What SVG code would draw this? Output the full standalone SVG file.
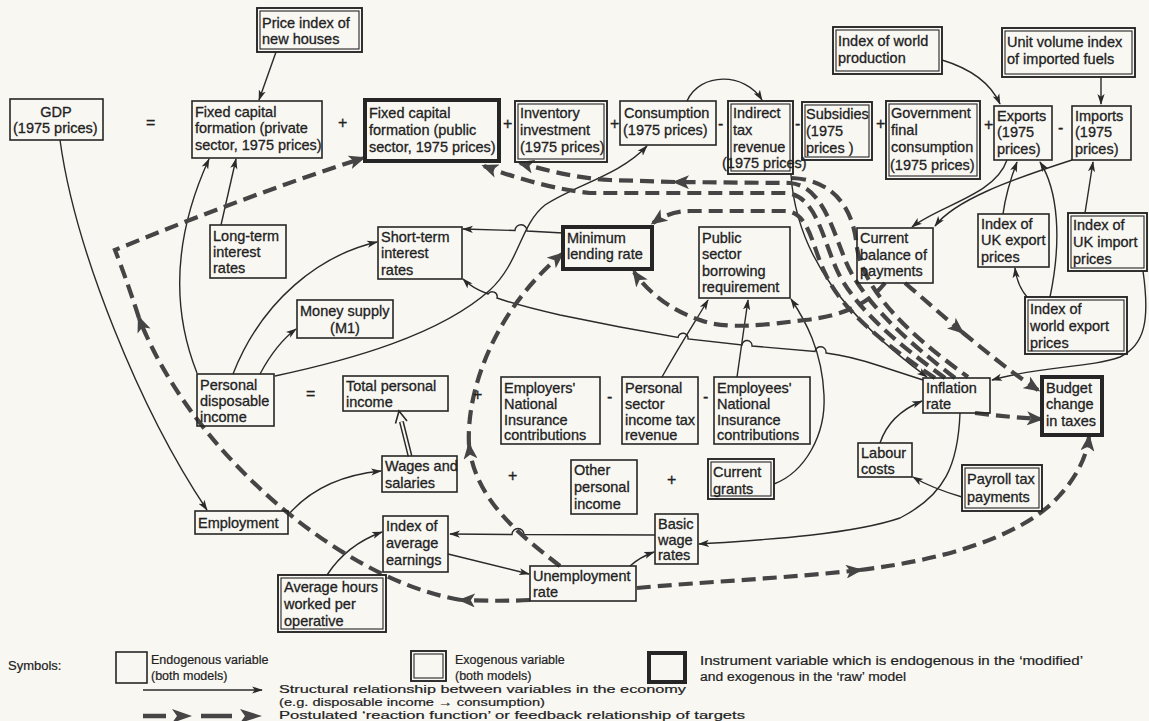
<svg xmlns="http://www.w3.org/2000/svg" width="1149" height="721" viewBox="0 0 1149 721">
<defs>
<style>
text{font-family:"Liberation Sans",Arial,sans-serif;font-size:14.5px;fill:#222;stroke:#222;stroke-width:0.3px}
.bx{fill:none;stroke:#262626;stroke-width:1.6}
.xo{fill:none;stroke:#262626;stroke-width:1.9}
.xi{fill:none;stroke:#262626;stroke-width:1.1}
.ins{fill:none;stroke:#262626;stroke-width:4}
.sa{fill:none;stroke:#2a2a2a;stroke-width:1.4;marker-end:url(#ah)}
.d{fill:none;stroke:#454545;stroke-width:4.2;stroke-dasharray:14 7;marker-end:url(#dh)}
.op{font-size:16px}
.lg{font-size:12.5px;stroke-width:0.2px}
.lg2{font-size:11.5px;stroke-width:0.2px}
</style>
<marker id="ah" viewBox="0 0 12 10" refX="11" refY="5" markerWidth="11" markerHeight="9" markerUnits="userSpaceOnUse" orient="auto"><path d="M0,1 L12,5 L0,9 L3,5 z" fill="#2a2a2a"/></marker>
<marker id="dh" viewBox="0 0 12 10" refX="10" refY="5" markerWidth="17" markerHeight="14" markerUnits="userSpaceOnUse" orient="auto"><path d="M0,0 L12,5 L0,10 L3,5 z" fill="#454545"/></marker>
</defs>
<rect width="1149" height="721" fill="#f8f7f2"/>

<g id="connectors">
<!-- structural (solid) -->
<path class="sa" d="M276,52 L259,100"/>
<path class="sa" d="M60,140 C 75,250 140,410 207,510"/>
<path class="sa" d="M197,373 C 172,310 172,240 209,159"/>
<path class="sa" d="M221,225 L236,159"/>
<path class="sa" d="M233,374 C 262,300 320,255 377,242"/>
<path class="sa" d="M260,374 Q 276,344 296,329"/>
<path class="sa" d="M275,376 C 350,360 440,335 490,290 C 520,262 520,225 545,205 C 575,185 620,175 647,146"/>
<path class="sa" d="M563,233 L527,231 A6,6 0 0 0 515,230.5 L463,229"/>
<path class="sa" d="M923,380 L880,366 Q850,356 826,353 A5,5 0 0 0 815,351.5 L752,346 A5,5 0 0 0 742,345 L688,339 A5,5 0 0 0 678,337.5 L620,327 L560,315 Q520,306 497,298 A5,5 0 0 0 488,294 Q472,288 463,279"/>
<path class="sa" d="M687,101 C 700,72 745,72 762,100"/>
<path class="sa" d="M942,60 C 975,70 992,86 1000,104"/>
<path class="sa" d="M1101,77 L1101,104"/>
<path class="sa" d="M1007,160 C 995,195 940,205 912,227"/>
<path class="sa" d="M1072,160 C 1010,180 955,200 935,226"/>
<path class="sa" d="M1003,214 C 1006,192 1012,175 1017,162"/>
<path class="sa" d="M1050,297 C 1062,240 1058,190 1040,162"/>
<path class="sa" d="M1027,297 Q 1017,285 1015,268"/>
<path class="sa" d="M1085,213 L1093,162"/>
<path class="sa" d="M1143,271 C 1150,320 1145,345 1120,357 C 1090,368 1040,366 992,380"/>
<path class="sa" d="M791,175 C 797,260 850,320 927,377"/>
<path class="sa" d="M880,443 C 886,425 900,410 922,401"/>
<path class="sa" d="M960,413 C 958,465 945,495 900,518 C 850,535 760,540 699,544"/>
<path class="sa" d="M962,497 C 945,492 928,486 913,477"/>
<path class="sa" d="M774,484 C 805,472 826,435 824,395 C 822,350 805,320 791,299"/>
<path class="sa" d="M737,377 L748,300"/>
<path class="sa" d="M662,377 C 680,345 695,322 708,300"/>
<path class="sa" d="M448,554 L529,574"/>
<path class="sa" d="M655,535 L524,534.5 A6,6 0 0 0 512,534.5 L450,534"/>
<path class="sa" d="M630,566 Q 640,557 654,552"/>
<path class="sa" d="M289,514 C 310,490 340,475 381,471"/>
<path class="sa" d="M327,575 C 340,555 360,540 382,532"/>
<!-- double arrow wages -> total personal income -->
<path d="M410,456 L401.4,421.7" fill="none" stroke="#2a2a2a" stroke-width="5"/>
<path d="M410.5,458 L401.4,421.7" fill="none" stroke="#f8f7f2" stroke-width="2"/>
<path d="M395.5,423.5 L399,411 L407,421" fill="none" stroke="#2a2a2a" stroke-width="1.6"/>

<!-- feedback (dashed) -->
<path class="d" d="M637,588 C 700,582 790,578 860,570"/>
<path class="d" d="M860,570 C 960,558 1030,530 1060,495 C 1078,475 1087,455 1089,437"/>
<path class="d" d="M560,566 C 520,535 475,500 469,445"/>
<path class="d" d="M469,445 C 466,390 495,310 562,254"/>
<path class="d" d="M530,600 C 510,601 490,601 461,600"/>
<path class="d" d="M461,600 C 340,580 190,450 139,318"/>
<path class="d" d="M139,318 C 130,290 122,268 115,250 L 115,250 C 200,215 280,185 363,158"/>
<path class="d" d="M955,378 C 905,340 862,300 846,262 C 832,228 822,186 790,183 L 675,182"/>
<path class="d" d="M675,182 L 610,180 C 575,178 545,170 520,163"/>
<path class="d" d="M945,378 C 895,342 852,305 836,268 C 822,236 815,194 785,193 L 590,193 C 560,190 520,180 484,166"/>
<path class="d" d="M935,378 C 885,345 842,310 826,275 C 812,248 810,212 785,211 L 690,211 C 675,211 663,216 653,223"/>
<path d="M792,178 C 835,180 852,210 856,240 C 860,290 910,335 968,377" fill="none" stroke="#454545" stroke-width="4.2" stroke-dasharray="14 7"/>
<path class="d" d="M885,283 C 870,302 845,316 805,320 C 765,325 725,330 700,320 C 675,312 650,295 634,272"/>
<path class="d" d="M905,283 C 925,300 945,318 962,332"/>
<path class="d" d="M962,332 C 990,355 1015,375 1038,390"/>
<path class="d" d="M975,413 C 1000,416 1020,418 1041,419"/>
</g>

<g id="ops">
<text class="op" x="146" y="128">=</text>
<text class="op" x="338" y="128">+</text>
<text class="op" x="503" y="129">+</text>
<text class="op" x="610" y="129">+</text>
<text class="op" x="718" y="129">-</text>
<text class="op" x="795" y="129">-</text>
<text class="op" x="876" y="129">+</text>
<text class="op" x="984" y="130">+</text>
<text class="op" x="1058" y="133">-</text>
<text class="op" x="306" y="399">=</text>
<text class="op" x="473" y="400">+</text>
<text class="op" x="607" y="402">-</text>
<text class="op" x="703" y="402">-</text>
<text class="op" x="508" y="481">+</text>
<text class="op" x="667" y="485">+</text>
</g>

<g id="gdp"><rect class="bx" x="10" y="99" width="93" height="41"/><text x="56" y="117" text-anchor="middle">GDP</text><text x="13" y="133">(1975 prices)</text></g>
<g id="price_index"><rect class="xo" x="257" y="8" width="105" height="44"/><rect class="xi" x="260" y="11" width="99" height="38"/><text x="262" y="28">Price index of</text><text x="262" y="44">new houses</text></g>
<g id="fcf_private"><rect class="bx" x="192" y="101" width="130" height="57"/><text x="195" y="117">Fixed capital</text><text x="195" y="133">formation (private</text><text x="195" y="150">sector, 1975 prices)</text></g>
<g id="fcf_public"><rect class="ins" x="365" y="100" width="134" height="61"/><text x="369" y="118">Fixed capital</text><text x="369" y="135">formation (public</text><text x="369" y="152">sector, 1975 prices)</text></g>
<g id="inventory"><rect class="xo" x="515" y="101" width="92" height="61"/><rect class="xi" x="518" y="104" width="86" height="55"/><text x="520" y="118">Inventory</text><text x="520" y="135">investment</text><text x="520" y="152">(1975 prices)</text></g>
<g id="consumption"><rect class="bx" x="620" y="101" width="96" height="44"/><text x="624" y="118">Consumption</text><text x="623" y="135">(1975 prices)</text></g>
<g id="indirect_tax"><rect class="xo" x="728" y="101" width="65" height="73"/><rect class="xi" x="731" y="104" width="59" height="67"/><text x="733" y="118">Indirect</text><text x="733" y="135">tax</text><text x="733" y="152">revenue</text><text x="722" y="168">(1975 prices)</text></g>
<g id="subsidies"><rect class="xo" x="802" y="102" width="70" height="58"/><rect class="xi" x="805" y="105" width="64" height="52"/><text x="806" y="119">Subsidies</text><text x="806" y="136">(1975</text><text x="806" y="153">prices )</text></g>
<g id="govt"><rect class="xo" x="886" y="101" width="94" height="78"/><rect class="xi" x="889" y="104" width="88" height="72"/><text x="891" y="118">Government</text><text x="891" y="135">final</text><text x="891" y="152">consumption</text><text x="890" y="170">(1975 prices)</text></g>
<g id="exports"><rect class="bx" x="994" y="106" width="58" height="54"/><text x="997" y="121">Exports</text><text x="997" y="137">(1975</text><text x="997" y="154">prices)</text></g>
<g id="imports"><rect class="bx" x="1072" y="106" width="59" height="54"/><text x="1075" y="121">Imports</text><text x="1075" y="137">(1975</text><text x="1075" y="154">prices)</text></g>
<g id="world_prod"><rect class="xo" x="833" y="27" width="109" height="47"/><rect class="xi" x="836" y="30" width="103" height="41"/><text x="838" y="46">Index of world</text><text x="838" y="63">production</text></g>
<g id="fuels"><rect class="xo" x="1002" y="28" width="133" height="49"/><rect class="xi" x="1005" y="31" width="127" height="43"/><text x="1007" y="47">Unit volume index</text><text x="1007" y="64">of imported fuels</text></g>

<g id="long_term"><rect class="bx" x="210" y="225" width="76" height="53"/><text x="213" y="241">Long-term</text><text x="213" y="257">interest</text><text x="213" y="273">rates</text></g>
<g id="short_term"><rect class="bx" x="378" y="227" width="84" height="52"/><text x="381" y="242">Short-term</text><text x="381" y="258">interest</text><text x="381" y="275">rates</text></g>
<g id="mlr"><rect class="ins" x="563" y="227" width="89" height="42"/><text x="567" y="243">Minimum</text><text x="567" y="259">lending rate</text></g>
<g id="psbr"><rect class="bx" x="699" y="227" width="91" height="71"/><text x="702" y="243">Public</text><text x="702" y="259">sector</text><text x="702" y="276">borrowing</text><text x="702" y="292">requirement</text></g>
<g id="current_balance"><rect class="bx" x="857" y="228" width="76" height="55"/><text x="860" y="243">Current</text><text x="860" y="260">balance of</text><text x="860" y="276">payments</text></g>
<g id="uk_export_prices"><rect class="bx" x="978" y="214" width="71" height="53"/><text x="981" y="229">Index of</text><text x="981" y="245">UK export</text><text x="981" y="262">prices</text></g>
<g id="uk_import_prices"><rect class="xo" x="1068" y="213" width="79" height="58"/><rect class="xi" x="1071" y="216" width="73" height="52"/><text x="1073" y="230">Index of</text><text x="1073" y="247">UK import</text><text x="1073" y="264">prices</text></g>
<g id="world_export_prices"><rect class="xo" x="1025" y="297" width="102" height="57"/><rect class="xi" x="1028" y="300" width="96" height="51"/><text x="1030" y="314">Index of</text><text x="1030" y="331">world export</text><text x="1030" y="348">prices</text></g>
<g id="money_supply"><rect class="bx" x="297" y="300" width="96" height="38"/><text x="300" y="316">Money supply</text><text x="345" y="333" text-anchor="middle">(M1)</text></g>
<g id="pdi"><rect class="bx" x="197" y="374" width="77" height="52"/><text x="200" y="390">Personal</text><text x="200" y="406">disposable</text><text x="200" y="422">income</text></g>
<g id="total_income"><rect class="bx" x="343" y="376" width="105" height="35"/><text x="346" y="391">Total personal</text><text x="346" y="407">income</text></g>
<g id="employers_nic"><rect class="bx" x="501" y="377" width="99" height="67"/><text x="504" y="393">Employers'</text><text x="504" y="409">National</text><text x="504" y="425">Insurance</text><text x="504" y="440">contributions</text></g>
<g id="personal_tax"><rect class="bx" x="622" y="377" width="76" height="67"/><text x="625" y="393">Personal</text><text x="625" y="409">sector</text><text x="625" y="425">income tax</text><text x="625" y="440">revenue</text></g>
<g id="employees_nic"><rect class="bx" x="714" y="377" width="96" height="67"/><text x="717" y="393">Employees'</text><text x="717" y="409">National</text><text x="717" y="425">Insurance</text><text x="717" y="440">contributions</text></g>
<g id="inflation"><rect class="bx" x="923" y="378" width="67" height="35"/><text x="926" y="393">Inflation</text><text x="926" y="409">rate</text></g>
<g id="budget"><rect class="ins" x="1042" y="377" width="60" height="58"/><text x="1046" y="393">Budget</text><text x="1046" y="409">change</text><text x="1046" y="426">in taxes</text></g>
<g id="wages"><rect class="bx" x="382" y="456" width="75" height="36"/><text x="385" y="471">Wages and</text><text x="385" y="488">salaries</text></g>
<g id="other_income"><rect class="bx" x="571" y="460" width="66" height="54"/><text x="574" y="475">Other</text><text x="574" y="492">personal</text><text x="574" y="509">income</text></g>
<g id="current_grants"><rect class="xo" x="708" y="459" width="66" height="40"/><rect class="xi" x="711" y="462" width="60" height="34"/><text x="713" y="477">Current</text><text x="713" y="494">grants</text></g>
<g id="labour_costs"><rect class="bx" x="858" y="443" width="54" height="34"/><text x="861" y="458">Labour</text><text x="861" y="474">costs</text></g>
<g id="payroll"><rect class="xo" x="962" y="465" width="80" height="46"/><rect class="xi" x="965" y="468" width="74" height="40"/><text x="967" y="484">Payroll tax</text><text x="967" y="502">payments</text></g>
<g id="employment"><rect class="bx" x="195" y="511" width="93" height="23"/><text x="198" y="528">Employment</text></g>
<g id="avg_earnings"><rect class="bx" x="383" y="516" width="65" height="56"/><text x="386" y="531">Index of</text><text x="386" y="548">average</text><text x="386" y="565">earnings</text></g>
<g id="avg_hours"><rect class="xo" x="278" y="575" width="108" height="57"/><rect class="xi" x="281" y="578" width="102" height="51"/><text x="284" y="592">Average hours</text><text x="284" y="609">worked per</text><text x="284" y="626">operative</text></g>
<g id="unemployment"><rect class="bx" x="530" y="566" width="106" height="35"/><text x="533" y="581">Unemployment</text><text x="533" y="597">rate</text></g>
<g id="basic_wage"><rect class="bx" x="655" y="514" width="43" height="50"/><text x="658" y="529">Basic</text><text x="658" y="545">wage</text><text x="658" y="560">rates</text></g>

<g id="legend">
<text class="lg" x="8" y="670" style="font-size:13px">Symbols:</text>
<rect class="bx" x="116" y="652" width="31" height="31"/>
<text class="lg" x="151" y="664">Endogenous variable</text>
<text class="lg" x="151" y="680">(both models)</text>
<rect class="xo" x="411" y="651" width="35" height="30"/><rect class="xi" x="414" y="654" width="29" height="24"/>
<text class="lg" x="455" y="664">Exogenous variable</text>
<text class="lg" x="455" y="680">(both models)</text>
<rect class="ins" x="649" y="653" width="36" height="29"/>
<text class="lg" x="700" y="665" textLength="383" lengthAdjust="spacingAndGlyphs">Instrument variable which is endogenous in the ‘modified’</text>
<text class="lg" x="700" y="681" textLength="206" lengthAdjust="spacingAndGlyphs">and exogenous in the ‘raw’ model</text>
<path class="sa" d="M143,690 L262,690"/>
<text class="lg2" x="279" y="693" textLength="407" lengthAdjust="spacingAndGlyphs">Structural relationship between variables in the economy</text>
<text class="lg2" x="279" y="706" textLength="266" lengthAdjust="spacingAndGlyphs">(e.g. disposable income → consumption)</text>
<path d="M143,716 L166,716 M201,716 L232,716" stroke="#454545" stroke-width="4.5" fill="none"/>
<path d="M172,709 L192,716 L172,723 L177,716 z M240,709 L262,716 L240,723 L245,716 z" fill="#454545"/>
<text class="lg2" x="279" y="719" textLength="466" lengthAdjust="spacingAndGlyphs">Postulated ‘reaction function’ or feedback relationship of targets</text>
</g>
</svg>
